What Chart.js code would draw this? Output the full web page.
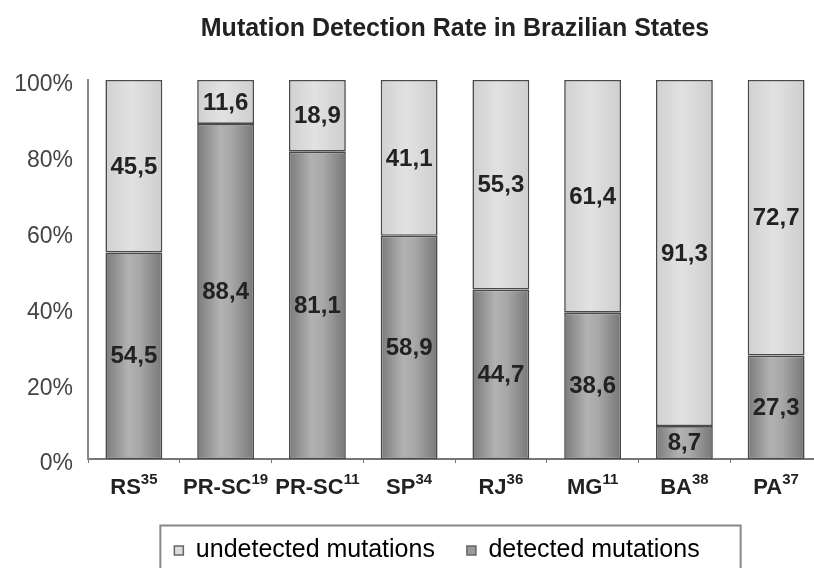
<!DOCTYPE html>
<html><head><meta charset="utf-8">
<script src="https://cdn.jsdelivr.net/npm/chart.js@4/dist/chart.umd.min.js"></script>
<style>html,body{margin:0;padding:0;background:#fff;overflow:hidden}canvas{display:block}</style>
</head><body>
<canvas id="c" width="822" height="568"></canvas>
<script>
const categories = ['RS','PR-SC','PR-SC','SP','RJ','MG','BA','PA'];
const references = ['35','19','11','34','36','11','38','37'];
const detected = [54.5,88.4,81.1,58.9,44.7,38.6,8.7,27.3];
const undetected = [45.5,11.6,18.9,41.1,55.3,61.4,91.3,72.7];
const yTicks = [0,20,40,60,80,100];
const seriesNames = ['detected mutations','undetected mutations'];

const FONT = "'Liberation Sans', Arial, Helvetica, sans-serif";
const BAR_PCT = 0.62;

function makeGradient(stops, flat){
  return function(ctx){
    const chart = ctx.chart;
    if(!chart.chartArea || ctx.dataIndex === undefined) return flat;
    const xs = chart.scales.x;
    const cx = xs.getPixelForValue(ctx.dataIndex);
    const w = xs.width / categories.length * BAR_PCT;
    const g = chart.ctx.createLinearGradient(cx - w/2, 0, cx + w/2, 0);
    stops.forEach(s => g.addColorStop(s[0], s[1]));
    return g;
  };
}
const darkGrad = makeGradient([[0,'#7a7a7a'],[0.4,'#b2b2b2'],[0.6,'#a8a8a8'],[1,'#777777']], '#9a9a9a');
const lightGrad = makeGradient([[0,'#d0d0d0'],[0.45,'#e2e2e2'],[1,'#cecece']], '#d9d9d9');

const segLabels = {
  id:'segLabels',
  afterDatasetsDraw(chart){
    const c = chart.ctx; c.save();
    c.font = 'bold 24px ' + FONT; c.fillStyle = '#222'; c.textAlign = 'center'; c.textBaseline = 'middle';
    chart.data.datasets.forEach((ds, di) => {
      chart.getDatasetMeta(di).data.forEach((el, i) => {
        const p = el.getCenterPoint();
        c.fillText(ds.data[i].toFixed(1).replace('.', ','), p.x, p.y + 1);
      });
    });
    c.restore();
  }
};

const xLabels = {
  id:'xLabels',
  afterDraw(chart){
    const xs = chart.scales.x, c = chart.ctx; c.save();
    c.fillStyle = '#222'; c.textBaseline = 'alphabetic'; c.textAlign = 'left';
    const base = xs.top + 35;
    categories.forEach((lab, i) => {
      const cx = xs.getPixelForValue(i);
      c.font = 'bold 22px ' + FONT; const mw = c.measureText(lab).width;
      c.font = 'bold 15px ' + FONT; const sw = c.measureText(references[i]).width;
      const left = cx - (mw + sw) / 2;
      c.font = 'bold 22px ' + FONT; c.fillText(lab, left, base);
      c.font = 'bold 15px ' + FONT; c.fillText(references[i], left + mw, base - 10);
    });
    c.restore();
  }
};

const legendShift = {
  id:'legendShift',
  afterLayout(chart){
    const lg = chart.legend; if(!lg) return;
    lg.left -= 18; lg.right -= 18;
  }
};

const legendBox = {
  id:'legendBox',
  afterDraw(chart){
    const lg = chart.legend; if(!lg || !lg.legendHitBoxes || !lg.legendHitBoxes.length) return;
    const hb = lg.legendHitBoxes, c = chart.ctx;
    const first = hb[0], last = hb[hb.length - 1];
    const left = first.left - 14, right = last.left + last.width + 41;
    const top = first.top + first.height / 2 - 25;
    c.save(); c.strokeStyle = '#888'; c.lineWidth = 2;
    c.strokeRect(left, top, right - left, 80);
    c.restore();
  }
};

new Chart(document.getElementById('c'), {
  type: 'bar',
  data: {
    labels: categories,
    datasets: [
      { label: seriesNames[0], data: detected, backgroundColor: darkGrad, borderColor: '#4a4a4a', borderWidth: 1.6, borderSkipped: false, legendFill: '#9a9a9a' },
      { label: seriesNames[1], data: undetected, backgroundColor: lightGrad, borderColor: '#4a4a4a', borderWidth: 1.6, borderSkipped: false, legendFill: '#dcdcdc' }
    ]
  },
  options: {
    responsive: false,
    animation: false,
    events: [],
    layout: { padding: { left: 0, right: 0, top: 0, bottom: -5 } },
    datasets: { bar: { categoryPercentage: 1, barPercentage: BAR_PCT } },
    scales: {
      x: {
        stacked: true,
        grid: { display: true, drawOnChartArea: false, drawTicks: true, tickLength: 4, color: '#777', offset: true },
        border: { display: true, color: '#777', width: 2 },
        ticks: { display: false },
        afterFit(s){ s.height = 47; }
      },
      y: {
        stacked: true, min: 0, max: 100,
        afterBuildTicks(s){ s.ticks = yTicks.map(v => ({ value: v })); },
        grid: { display: false, drawTicks: false },
        border: { display: true, color: '#888', width: 2 },
        ticks: { padding: 15, labelOffset: 5, color: '#444', font: { family: FONT, size: 23 }, callback: v => v + '%' },
        afterFit(s){ s.width = 88; }
      }
    },
    plugins: {
      title: {
        display: true, text: 'Mutation Detection Rate in Brazilian States', fullSize: false,
        color: '#222', font: { family: FONT, size: 25, weight: 'bold' },
        padding: { top: 14, bottom: 36 }
      },
      legend: {
        display: true, position: 'bottom', fullSize: false, reverse: true,
        labels: {
          color: '#333', font: { family: FONT, size: 25 }, boxWidth: 9, boxHeight: 9, padding: 32,
          generateLabels(chart){
            return chart.data.datasets.map((ds, i) => ({
              text: ds.label, fillStyle: ds.legendFill, strokeStyle: '#666', lineWidth: 1.5,
              datasetIndex: i, hidden: false
            }));
          }
        }
      },
      tooltip: { enabled: false }
    }
  },
  plugins: [legendShift, segLabels, xLabels, legendBox]
});
</script>
</body></html>
